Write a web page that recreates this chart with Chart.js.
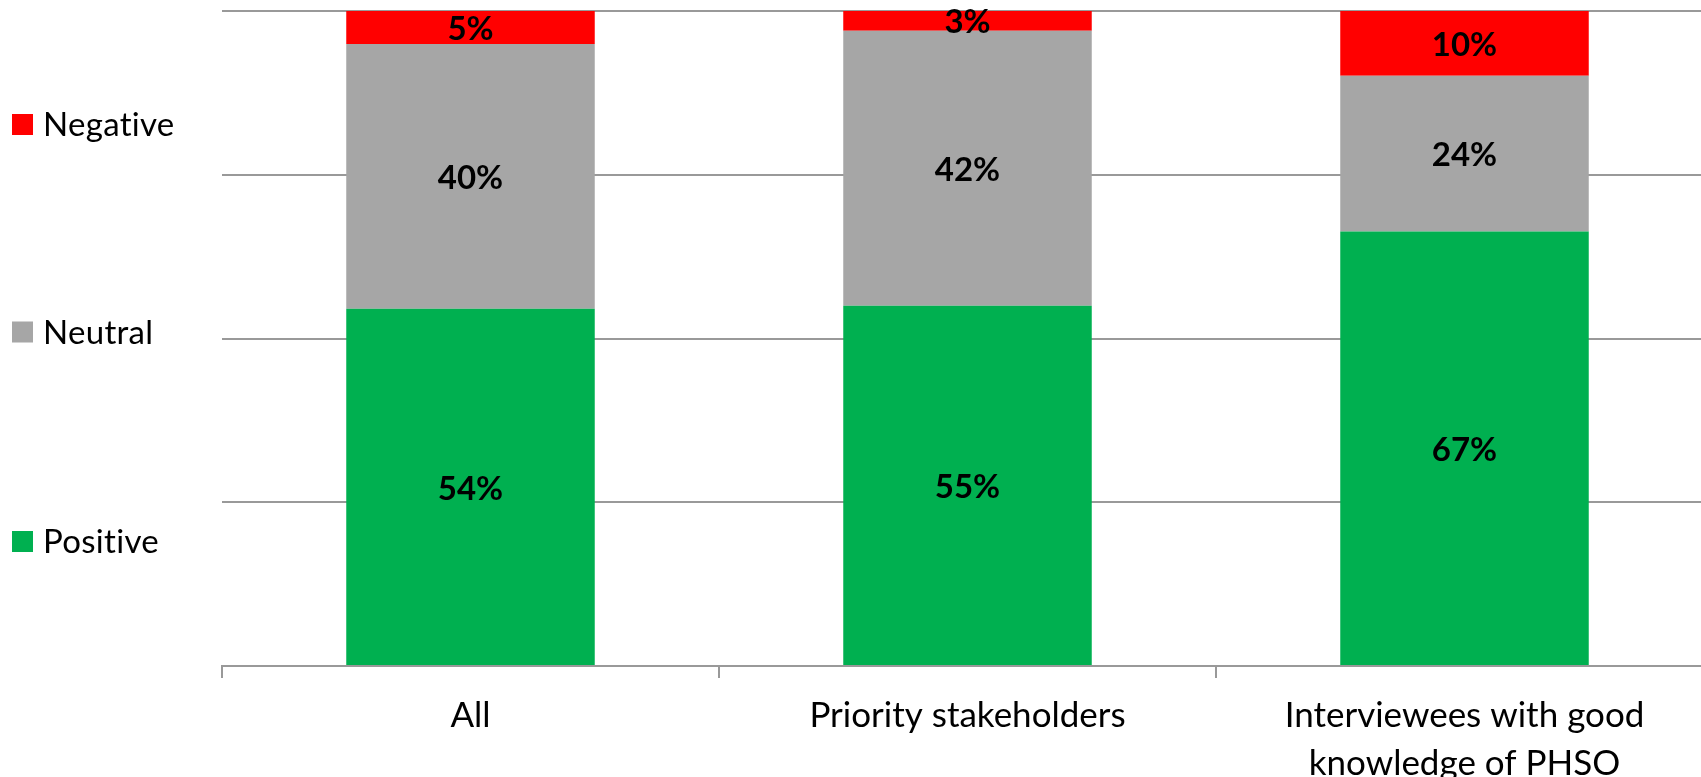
<!DOCTYPE html>
<html>
<head>
<meta charset="utf-8">
<script src="https://cdn.jsdelivr.net/npm/chart.js@4.4.1/dist/chart.umd.min.js"></script>
<style>
  html, body { margin: 0; padding: 0; overflow: hidden; background: #fff; }
  canvas { display: block; }
</style>
</head>
<body>
<canvas id="myChart" width="1713" height="809"></canvas>
<script>
const categories = ["All", "Priority stakeholders", ["Interviewees with good", "knowledge of PHSO"]];
const positive = [54, 55, 67];
const neutral = [40, 42, 24];
const negative = [5, 3, 10];
const yTicks = [0, 25, 50, 75, 100];

// 100% stacked: each bar is scaled to its own total, like the original
const totals = positive.map((v, i) => v + neutral[i] + negative[i]);
const share = (arr) => arr.map((v, i) => (v / totals[i]) * 100);

const labelFont = "Lato, 'Open Sans', sans-serif";

const sideLegend = {
  id: "sideLegend",
  afterDraw(chart) {
    const ctx = chart.ctx;
    const rows = [124.5, 332, 541.5];
    const items = chart.data.datasets.slice().reverse();
    ctx.save();
    ctx.font = "33px " + labelFont;
    ctx.letterSpacing = "0.3px"; // stops the "ti" ligature
    ctx.textBaseline = "middle";
    ctx.textAlign = "left";
    items.forEach((ds, i) => {
      ctx.fillStyle = ds.backgroundColor;
      ctx.fillRect(12, rows[i] - 10.5, 21, 21);
      ctx.fillStyle = "#000";
      ctx.fillText(ds.label, 43, rows[i] + 1);
    });
    ctx.restore();
  },
};

const barLabels = {
  id: "barLabels",
  afterDatasetsDraw(chart) {
    const ctx = chart.ctx;
    ctx.save();
    ctx.font = "bold 33px " + labelFont;
    ctx.fillStyle = "#000";
    ctx.textAlign = "center";
    ctx.textBaseline = "middle";
    chart.data.datasets.forEach((ds, d) => {
      chart.getDatasetMeta(d).data.forEach((bar, i) => {
        ctx.fillText(ds.raw[i] + "%", bar.x, (bar.y + bar.base) / 2 + 2);
      });
    });
    ctx.restore();
  },
};

const ctx = document.getElementById("myChart");

new Chart(ctx, {
  type: "bar",
  data: {
    labels: categories,
    datasets: [
      { label: "Positive", raw: positive, data: share(positive), backgroundColor: "#00B050" },
      { label: "Neutral", raw: neutral, data: share(neutral), backgroundColor: "#A6A6A6" },
      { label: "Negative", raw: negative, data: share(negative), backgroundColor: "#FF0000" },
    ],
  },
  options: {
    responsive: false,
    animation: false,
    layout: { padding: { left: 222, top: 11, right: 0, bottom: 7 } },
    datasets: { bar: { barPercentage: 0.5, categoryPercentage: 1 } },
    plugins: { legend: { display: false }, tooltip: { enabled: false } },
    scales: {
      x: {
        stacked: true,
        grid: { offset: true, drawOnChartArea: false, drawTicks: true, tickLength: 12, color: "#999", lineWidth: 2 },
        border: { color: "#999", width: 2 },
        ticks: { color: "#000", padding: 14, font: { family: labelFont, size: 35, lineHeight: 48 / 35 } },
      },
      y: {
        stacked: true,
        min: 0,
        max: 100,
        afterBuildTicks: (axis) => { axis.ticks = yTicks.map((v) => ({ value: v })); },
        grid: { drawTicks: false, color: "#999", lineWidth: 2 },
        border: { display: false },
        ticks: { display: false },
      },
    },
  },
  plugins: [sideLegend, barLabels],
});
</script>
</body>
</html>
